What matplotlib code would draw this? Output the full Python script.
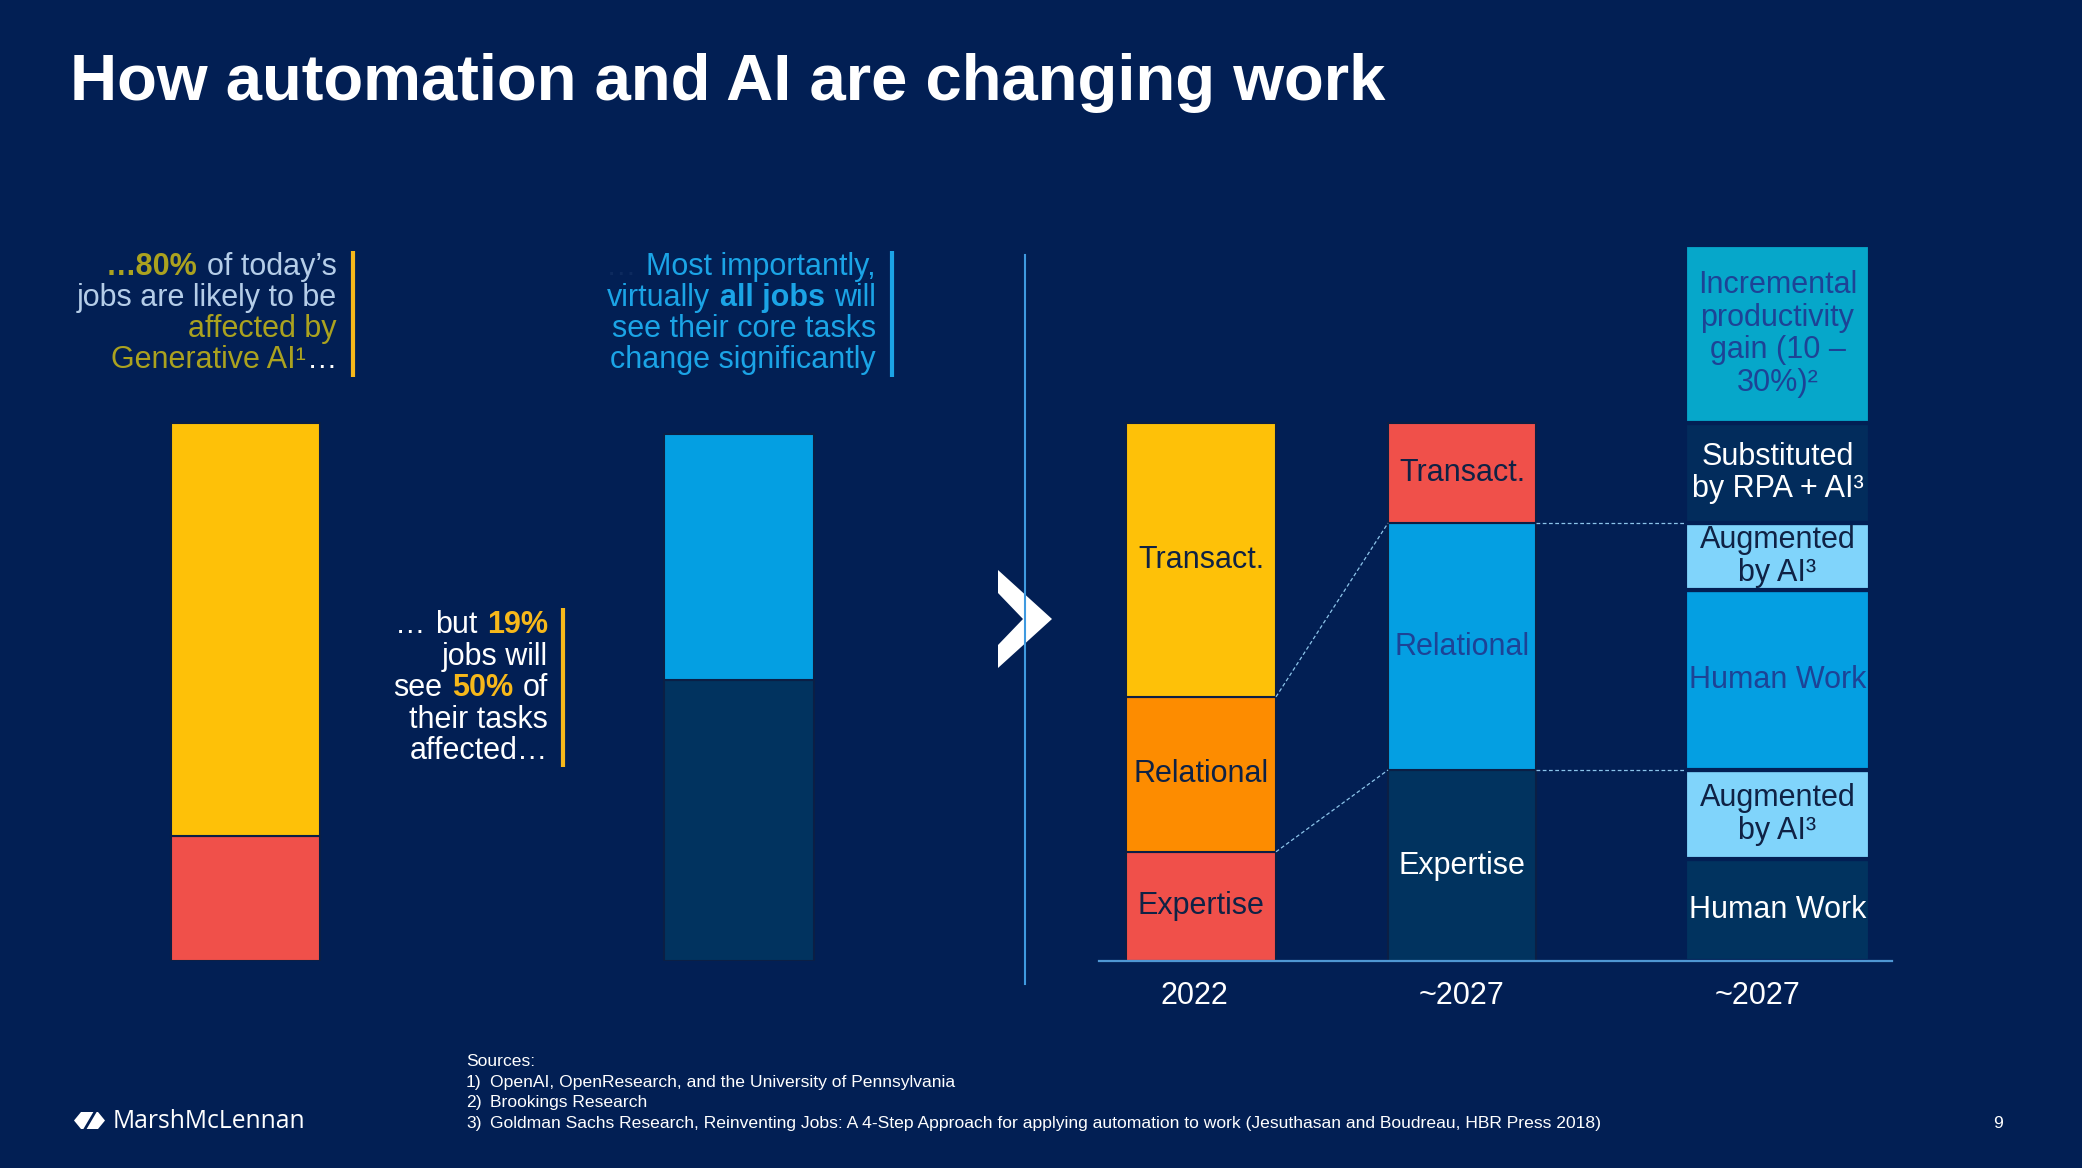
import numpy as np
import matplotlib
matplotlib.use('Agg')
import matplotlib.pyplot as plt
from matplotlib.patches import Polygon

W, H = 2082, 1168
FONT = ['Liberation Sans', 'DejaVu Sans']
BG = '#021f54'

# ---- data (share of work, %) ----
left_names = ['all jobs', 'core tasks']
left_lower = [23.3, 52.3]          # red / dark part
left_upper = [76.7, 45.7]          # yellow / blue part

years = ['2022', '~2027', '~2027']
task_names = ['Expertise', 'Relational', 'Transact.']
tasks_2022 = [20.3, 28.8, 50.9]
tasks_2027 = [35.5, 45.9, 18.6]
split_names = ['Human Work', 'Augmented\nby AI³', 'Human Work', 'Augmented\nby AI³',
               'Substituted\nby RPA + AI³', 'Incremental\nproductivity\ngain (10 –\n30%)²']
split_2027 = [19.0, 16.5, 33.5, 12.4, 18.6, 33.1]

sources = ['OpenAI, OpenResearch, and the University of Pennsylvania',
           'Brookings Research',
           'Goldman Sachs Research, Reinventing Jobs: A 4-Step Approach for applying automation '
           'to work (Jesuthasan and Boudreau, HBR Press 2018)']

# ---- colours ----
YELLOW, ORANGE, RED = '#fec108', '#fd8c00', '#f0504a'
BLUE, DARK, TEAL, LIGHT, SUBST = '#049fe2', '#01335f', '#06a7ca', '#80d4fb', '#022c5c'
NAVY_TXT, BLUE_TXT = '#0f2245', '#1d4396'
OLIVE, PALE, ACC_Y, ACC_B = '#aba21f', '#b5cde8', '#f7b81a', '#1ba4e6'

PX_PER_UNIT = 5.38
BASE = 961          # baseline of the bars, px from top

fig = plt.figure(figsize=(W / 100, H / 100), dpi=100, facecolor=BG)
renderer = fig.canvas.get_renderer()


def rect(x0, x1, y_top):
    return [x0 / W, (H - BASE) / H, (x1 - x0) / W, (BASE - y_top) / H]


def stack(ax, x, w, vals, colors, names, tcolors, ec, lw):
    bottom = 0
    for v, c, n, tc in zip(vals, colors, names, tcolors):
        ax.bar(x, v, width=w, bottom=bottom, color=c, edgecolor=ec, linewidth=lw)
        if n:
            ax.text(x, bottom + v / 2, n, ha='center', va='center', color=tc,
                    fontsize=22, family=FONT, linespacing=1.12)
        bottom += v


# left panel
axl = fig.add_axes(rect(100, 950, 200))
axl.set_xlim(100, 950)
axl.set_ylim(0, (BASE - 200) / PX_PER_UNIT)
axl.axis('off')
for x, w, lo, up, cols in zip([245.5, 739], [149, 150], left_lower, left_upper,
                              [(RED, YELLOW), (DARK, BLUE)]):
    stack(axl, x, w, [lo, up], cols, [None, None], [None, None], '#0b1f45', 1.5)

# right panel
axr = fig.add_axes(rect(1099, 1892, 200))
axr.set_xlim(1099, 1892)
axr.set_ylim(0, (BASE - 200) / PX_PER_UNIT)
axr.set_facecolor('none')
for s in ['top', 'left', 'right']:
    axr.spines[s].set_visible(False)
axr.spines['bottom'].set_color('#4f97d4')
axr.spines['bottom'].set_linewidth(1.6)
axr.set_xticks([])
axr.set_yticks([])

xs = [1201, 1462, 1777.5]
ws = [150, 148, 185]
stack(axr, xs[0], ws[0], tasks_2022, [RED, ORANGE, YELLOW], task_names,
      [NAVY_TXT, NAVY_TXT, NAVY_TXT], '#0b1f45', 1.5)
stack(axr, xs[1], ws[1], tasks_2027, [DARK, BLUE, RED], task_names,
      ['white', BLUE_TXT, NAVY_TXT], '#0b1f45', 1.5)
stack(axr, xs[2], ws[2], split_2027, [DARK, LIGHT, BLUE, LIGHT, SUBST, TEAL], split_names,
      ['white', NAVY_TXT, BLUE_TXT, NAVY_TXT, 'white', BLUE_TXT], BG, 3)

# connectors between bars
c22 = np.cumsum(tasks_2022)
c27 = np.cumsum(tasks_2027)
dash = dict(color='#8cc4ea', lw=0.9, ls=(0, (3, 2)))
for i in range(2):
    axr.plot([xs[0] + ws[0] / 2, xs[1] - ws[1] / 2], [c22[i], c27[i]], **dash)
    axr.plot([xs[1] + ws[1] / 2, xs[2] - ws[2] / 2], [c27[i], c27[i]], **dash)

for x, lab in zip([1194, 1461, 1757], years):
    axr.text(x, -(1004 - BASE) / PX_PER_UNIT, lab, ha='center', va='baseline', color='white',
             fontsize=22, family=FONT, clip_on=False)

# overlay in pixel units for the slide text
ov = fig.add_axes([0, 0, 1, 1])
ov.set_xlim(0, W)
ov.set_ylim(H, 0)
ov.axis('off')
ov.patch.set_alpha(0)

ov.text(70, 100, 'How automation and AI are changing work', color='white', fontsize=47,
        fontweight='bold', family=FONT, va='baseline')


def text_w(s, size, weight):
    t = ov.text(0, 0, s, fontsize=size, fontweight=weight, family=FONT)
    w = t.get_window_extent(renderer).width
    t.remove()
    return w


def rich_line(x_right, y, runs, size=22):
    widths = []
    for r in runs:
        s, wt = r[0], (r[2] if len(r) > 2 else 'normal')
        if s == ' ':
            widths.append(text_w('a a', size, wt) - text_w('aa', size, wt))
        else:
            widths.append(text_w(s, size, wt) + 1)
    x = x_right - sum(widths)
    for r, w in zip(runs, widths):
        if r[0] != ' ':
            ov.text(x, y, r[0], color=r[1], fontsize=size,
                    fontweight=(r[2] if len(r) > 2 else 'normal'), family=FONT, va='baseline')
        x += w


SP = (' ',)
text1 = [[('…80%', OLIVE, 'bold'), SP, ('of today’s', PALE)],
         [('jobs are likely to be', PALE)],
         [('affected by', OLIVE)],
         [('Generative AI¹', OLIVE), ('…', 'white')]]
text2 = [[('…', '#0d2a5e'), SP, ('Most importantly,', ACC_B)],
         [('virtually', ACC_B), SP, ('all jobs', ACC_B, 'bold'), SP, ('will', ACC_B)],
         [('see their core tasks', ACC_B)],
         [('change significantly', ACC_B)]]
text3 = [[('…', 'white'), SP, ('but', 'white'), SP, ('19%', ACC_Y, 'bold')],
         [('jobs will', 'white')],
         [('see', 'white'), SP, ('50%', ACC_Y, 'bold'), SP, ('of', 'white')],
         [('their tasks', 'white')],
         [('affected…', 'white')]]

for i, ln in enumerate(text1):
    rich_line(338, 275 + 31 * i, ln)
for i, ln in enumerate(text2):
    rich_line(877, 275 + 31 * i, ln)
for i, ln in enumerate(text3):
    rich_line(549, 633 + 31.5 * i, ln)

# accent bars and divider
ov.plot([353, 353], [251, 377], color=ACC_Y, lw=3, solid_capstyle='butt')
ov.plot([892, 892], [251, 377], color=ACC_B, lw=3, solid_capstyle='butt')
ov.plot([563, 563], [608, 767], color=ACC_Y, lw=3, solid_capstyle='butt')
ov.plot([1025, 1025], [255, 984], color='#3f9ae0', lw=1.5)
ov.add_patch(Polygon([(998, 570), (1052, 619), (998, 668), (998, 645), (1023, 619), (998, 593)],
                     closed=True, facecolor='white', edgecolor='none'))

# footer
ov.text(466, 1066, 'Sources:', color='white', fontsize=12.6, family=FONT, va='baseline')
for i, s in enumerate(sources):
    y = 1087 + 20.5 * i
    ov.text(466, y, f'{i + 1})', color='white', fontsize=12.6, family=FONT, va='baseline')
    ov.text(490, y, s, color='white', fontsize=12.6, family=FONT, va='baseline')
ov.text(1998, 1128, '9', color='white', fontsize=12.6, family=FONT, va='baseline', ha='center')

ov.add_patch(Polygon([(74, 1120.5), (81, 1112), (98, 1112), (105, 1120.5), (98, 1129), (81, 1129)],
                     closed=True, facecolor='white', edgecolor='none'))
ov.plot([85, 95], [1129, 1112], color=BG, lw=2)
ov.text(113, 1128, 'MarshMcLennan', color='white', fontsize=17.7,
        family=['Open Sans', 'DejaVu Sans'], va='baseline')

fig.savefig('out.png', dpi=100, facecolor=BG)
